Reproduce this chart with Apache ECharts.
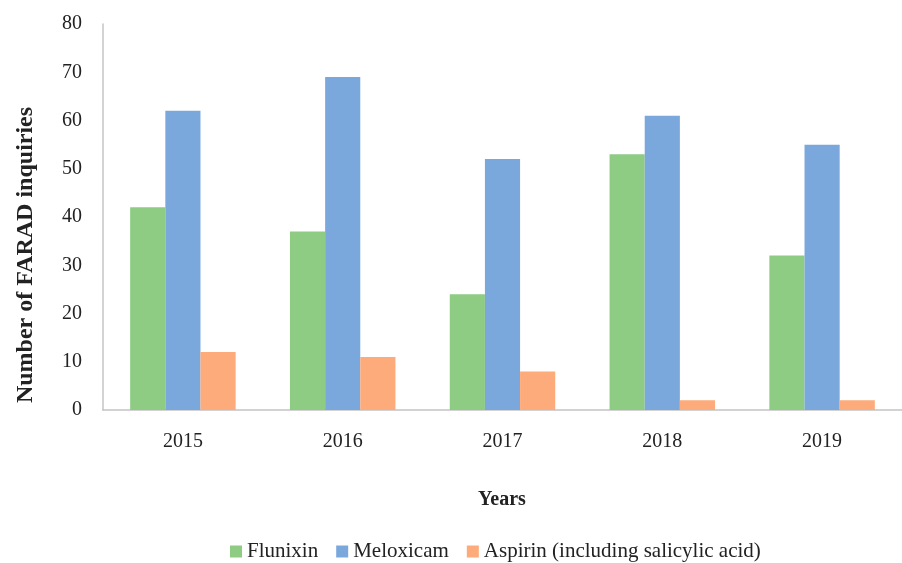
<!DOCTYPE html>
<html>
<head>
<meta charset="utf-8">
<script src="https://cdn.jsdelivr.net/npm/echarts@6/dist/echarts.min.js"></script>
<style>
  html, body { margin: 0; padding: 0; background: #fff; }
  #chart { width: 902px; height: 563px; }
</style>
</head>
<body>
<div id="chart"></div>
<script>
var years = ['2015', '2016', '2017', '2018', '2019'];
var flunixin = [42, 37, 24, 53, 32];
var meloxicam = [62, 69, 52, 61, 55];
var aspirin = [12, 11, 8, 2, 2];

var font = 'Liberation Serif';
var chart = echarts.init(document.getElementById('chart'));

var option = {
    backgroundColor: '#fff',
    animation: false,
    grid: {
        left: 103,
        right: -6,
        top: 24,
        bottom: 153
    },
    legend: {
        top: 536,
        left: 225,
        itemWidth: 12,
        itemHeight: 12,
        itemGap: 18,
        icon: 'rect',
        textStyle: { fontFamily: font, fontSize: 21, color: '#222' },
        data: ['Flunixin', 'Meloxicam', 'Aspirin (including salicylic acid)']
    },
    graphic: [
        {
            type: 'text',
            x: 26,
            y: 255,
            rotation: Math.PI / 2,
            style: {
                text: 'Number of FARAD inquiries',
                fontFamily: font,
                fontSize: 24,
                fontWeight: 'bold',
                fill: '#222',
                align: 'center',
                verticalAlign: 'middle'
            }
        },
        {
            type: 'text',
            x: 502,
            y: 500,
            style: {
                text: 'Years',
                fontFamily: font,
                fontSize: 20,
                fontWeight: 'bold',
                fill: '#222',
                align: 'center',
                verticalAlign: 'middle'
            }
        }
    ],
    xAxis: {
        type: 'category',
        data: years,
        axisLine: { lineStyle: { color: '#c4c4c4', width: 1.5 } },
        axisTick: { show: false },
        axisLabel: { fontFamily: font, fontSize: 20, color: '#222', margin: 22 }
    },
    yAxis: {
        type: 'value',
        min: 0,
        max: 80,
        interval: 10,
        splitLine: { show: false },
        axisLine: { show: true, lineStyle: { color: '#c4c4c4', width: 1.5 } },
        axisTick: { show: false },
        axisLabel: { fontFamily: font, fontSize: 20, color: '#222', margin: 21 }
    },
    series: [
        {
            name: 'Flunixin',
            type: 'bar',
            data: flunixin,
            barGap: 0,
            barCategoryGap: '34%',
            itemStyle: { color: '#8ecb83' }
        },
        {
            name: 'Meloxicam',
            type: 'bar',
            data: meloxicam,
            itemStyle: { color: '#7ba8dc' }
        },
        {
            name: 'Aspirin (including salicylic acid)',
            type: 'bar',
            data: aspirin,
            itemStyle: { color: '#fdab7a' }
        }
    ]
};

chart.setOption(option);
</script>
</body>
</html>
